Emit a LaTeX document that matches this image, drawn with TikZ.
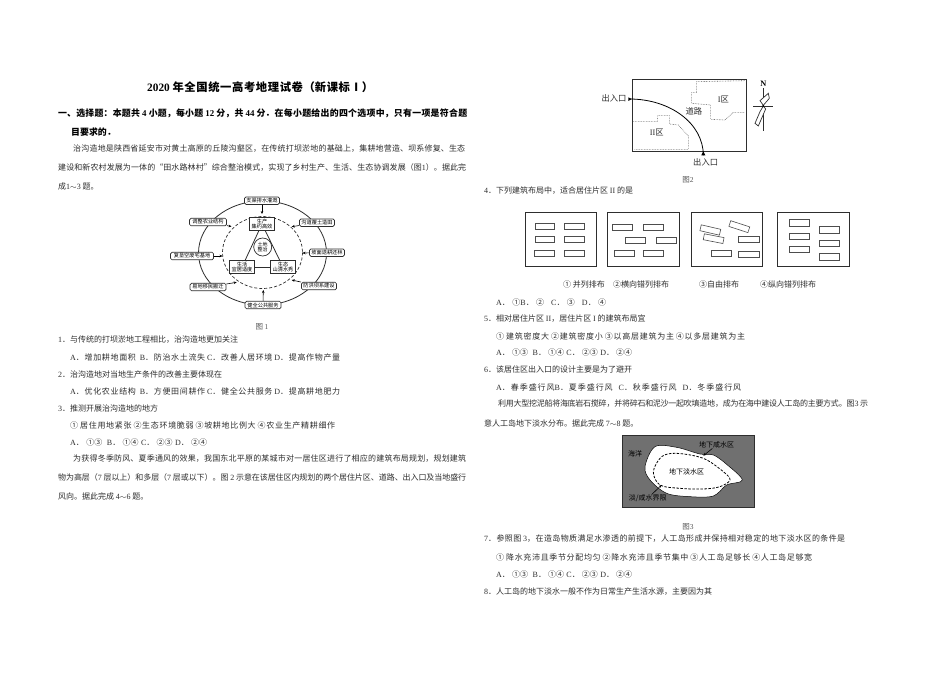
\documentclass[tikz,border=0pt]{standalone}
\usepackage{fontspec}
\setmainfont{Noto Sans CJK SC}
\newfontfamily\lat{Liberation Serif}
\usetikzlibrary{arrows.meta}
\definecolor{ink}{gray}{0.18}
\newcommand{\La}[1]{{\lat #1}}
\newcommand{\fitl}[2]{\vbox{\hsize=#1pt\parindent=0pt\parfillskip=0pt\tolerance=10000\hbadness=10000\hfuzz=30pt\emergencystretch=20pt\XeTeXlinebreaklocale "zh"\XeTeXlinebreakskip=0pt plus 4pt minus 0.6pt\relax #2\par}}
\tikzset{
 txt/.style={anchor=west,inner sep=0pt,text=ink,font=\fontsize{8}{9}\selectfont},
 boldtxt/.style={anchor=west,inner sep=0pt,text=black,font=\fontsize{8.9}{10}\selectfont\bfseries},
 captxt/.style={inner sep=0pt,text=ink!80,font=\fontsize{7.5}{9}\selectfont},
 outerbox/.style={draw=ink,line width=0.7pt,rounded corners=1.5pt,fill=white,inner sep=0pt,minimum height=7.5pt,font=\fontsize{5.2}{5.5}\selectfont},
 innerbox/.style={draw=ink,line width=0.8pt,fill=white,inner sep=0pt,minimum width=25.5pt,minimum height=13pt,align=center,font=\fontsize{5.2}{5.6}\selectfont},
 arr/.style={-{Stealth[length=3pt,width=2.6pt]},line width=0.6pt,draw=black},
 framebox/.style={draw=ink,line width=0.8pt},
 bld/.style={draw=ink!85,line width=0.6pt},
 lab/.style={inner sep=0pt,text=ink,font=\fontsize{8.3}{9}\selectfont},
 isl/.style={inner sep=0pt,text=black,font=\fontsize{7}{8}\selectfont},
}
\begin{document}
\begin{tikzpicture}[x=1pt,y=-1pt]
\useasboundingbox (0,0) rectangle (950,672);
\fill[white] (0,0) rectangle (950,672);
% ---------- left column text
\node[anchor=west,inner sep=0pt,font=\fontsize{11.3}{13}\selectfont\bfseries] (title) at (147,87) {\fitl{226}{\La{\bfseries 2020} 年全国统一高考地理试卷（新课标Ⅰ）}};
\node[boldtxt] (s1) at (58,113) {\fitl{409}{一、选择题：本题共 \La{\bfseries 4} 小题，每小题 \La{\bfseries 12} 分，共 \La{\bfseries 44} 分．在每小题给出的四个选项中，只有一项是符合题}};
\node[boldtxt] (s2) at (71,132) {目要求的．};
\node[txt] (p1) at (73,149) {\fitl{392}{治沟造地是陕西省延安市对黄土高原的丘陵沟壑区，在传统打坝淤地的基础上，集耕地营造、坝系修复、生态}};
\node[txt] (p2) at (58,168) {\fitl{408}{建设和新农村发展为一体的“田水路林村”综合整治模式，实现了乡村生产、生活、生态协调发展（图\La{1}）。据此完}};
\node[txt] (p3) at (58,186) {成\La{1$\sim$3} 题。};
\node[captxt] (c1) at (262,327) {图 \La{1}};
\node[txt] (q1) at (58,340) {\La{1}．与传统的打坝淤地工程相比，治沟造地更加关注};
\node[txt] (q1a) at (70,357) {\fitl{270}{\La{A}．增加耕地面积\ \ \La{B}．防治水土流失 \La{C}．改善人居环境 \La{D}．提高作物产量}};
\node[txt] (q2) at (58,374) {\La{2}．治沟造地对当地生产条件的改善主要体现在};
\node[txt] (q2a) at (70,391) {\fitl{270}{\La{A}．优化农业结构\ \ \La{B}．方便田间耕作 \La{C}．健全公共服务 \La{D}．提高耕地肥力}};
\node[txt] (q3) at (58,408) {\La{3}．推测开展治沟造地的地方};
\node[txt] (q3b) at (70,425) {\fitl{265}{① 居住用地紧张 ②生态环境脆弱 ③坡耕地比例大 ④农业生产精耕细作}};
\node[txt] (q3a) at (70,442) {\fitl{137}{\La{A}．①③\ \ \La{B}．①④ \La{C}．②③ \La{D}．②④}};
\node[txt] (p4) at (73,459) {\fitl{393}{为获得冬季防风、夏季通风的效果，我国东北平原的某城市对一居住区进行了相应的建筑布局规划，规划建筑}};
\node[txt] (p5) at (58,477) {\fitl{408}{物为高层（\La{7} 层以上）和多层（\La{7} 层或以下）。图 \La{2} 示意在该居住区内规划的两个居住片区、道路、出入口及当地盛行}};
\node[txt] (p6) at (58,496) {风向。据此完成 \La{4$\sim$6} 题。};
% ---------- figure 1
\draw[ink,line width=0.8pt] (262.5,253) ellipse [x radius=64,y radius=52];
\draw[ink,line width=0.7pt,dashed,dash pattern=on 3pt off 2pt] (262.5,252.5) ellipse [x radius=40,y radius=36];
\node[outerbox,minimum width=35pt] (b1) at (262,200.7) {支渠排水灌溉};
\node[outerbox,minimum width=37pt] (b2) at (208,222) {调整农业结构};
\node[outerbox,minimum width=35pt] (b3) at (317,222.7) {沟道覆土造田};
\node[outerbox,minimum width=35pt] (b4) at (327,252.7) {坡面退耕还林};
\node[outerbox,minimum width=43pt] (b5) at (192,256) {复垦空废宅基地};
\node[outerbox,minimum width=36pt] (b6) at (208,287) {易地移民搬迁};
\node[outerbox,minimum width=35pt] (b7) at (319,286) {防洪坝系建设};
\node[outerbox,minimum width=36pt] (b8) at (263,305) {健全公共服务};
\coordinate (e1) at (262,214);
\coordinate (e2) at (231.5,226.5);
\coordinate (e3) at (291.7,226.7);
\coordinate (e4) at (302.5,253);
\coordinate (e5) at (222.5,256);
\coordinate (e6) at (236.7,282.3);
\coordinate (e7) at (291.7,280);
\coordinate (e8) at (263.3,290);
\foreach \i in {1,...,8} {\draw[arr] (b\i) -- (e\i);}
\node[innerbox] (prod) at (262,224) {生产\\集约高效};
\node[innerbox] (live) at (242,267) {生活\\宜居适度};
\node[innerbox] (eco) at (283,267) {生态\\山清水秀};
\node[draw=ink,line width=0.7pt,circle,minimum size=18pt,inner sep=0pt,align=center,font=\fontsize{5}{5.4}\selectfont] (land) at (262.7,247) {土地\\整治};
\draw[ink,line width=0.8pt] (prod) -- (live);
\draw[ink,line width=0.8pt] (prod) -- (eco);
\draw[ink,line width=0.8pt] (live) -- (eco);
% ---------- figure 2
\begin{scope}[shift={(590,70)},x=0.3333pt,y=-0.3333pt]
\draw[ink,line width=0.9pt] (128,27) rectangle (468,243);
\draw[ink!80,line width=0.6pt,densely dotted] (465,32) -- (320,35) -- (320,68) -- (305,68) -- (305,100) -- (362,105) -- (362,148) -- (405,150) -- (430,127) -- (465,127);
\draw[ink!80,line width=0.6pt,densely dotted] (130,155) -- (203,155) -- (203,137) -- (238,137) -- (238,162) -- (265,165) -- (295,198) -- (295,238) -- (132,238);
\coordinate (g1) at (118,87);
\coordinate (g2) at (340,256);
\draw[black,line width=0.8pt] (g1) .. controls (240,87) and (340,160) .. (g2);
\fill[black] (115,82) -- (125,87) -- (115,93) -- cycle;
\fill[black] (334,256) -- (340,244) -- (346,256) -- cycle;
\node[lab] (g3) at (72,85) {出入口};
\node[lab] (g4) at (400,87) {\La{I}区};
\node[lab] (g5) at (312,125) {道路};
\node[lab] (g6) at (200,187) {\La{II}区};
\node[lab] (g7) at (347,277) {出入口};
\node[lab,text=black] (gN) at (520,40) {\La{\bfseries N}};
\draw[ink,line width=0.6pt] (520,55) -- (520,182);
\draw[ink,line width=0.6pt] (490,108) -- (550,108);
\draw[ink,line width=0.7pt,fill=white] (520,106) -- (510,92) -- (535,70) -- (538,85) -- cycle;
\draw[ink,line width=0.7pt,fill=white] (520,108) -- (527,117) -- (505,168) -- (495,160) -- (510,125) -- cycle;
\fill[black] (520,108) circle (3.5);
\end{scope}
\node[captxt] (c2) at (688,180) {图\La{2}};
\node[txt] (q4) at (484,191) {\La{4}．下列建筑布局中，适合居住片区 \La{II} 的是};
% ---------- layouts
\begin{scope}[shift={(500,195)},x=0.3333pt,y=-0.3333pt]
\draw[framebox] (75,53) rectangle (290,215);
\draw[framebox] (322,53) rectangle (538,215);
\draw[framebox] (573,53) rectangle (788,215);
\draw[framebox] (832,53) rectangle (1048,215);
\foreach \a/\b/\c/\d in {105/85/163/103,192/85/252/103,105/125/163/143,192/125/252/143,103/165/163/183,192/165/252/183,
 337/87/397/105,430/87/490/105,377/127/437/145,470/127/530/145,343/165/403/183,430/165/490/183,
 715/124/777/142,633/165/693/183,715/170/777/188,
 868/73/928/93,868/115/928/133,868/155/928/173,957/95/1018/115,957/137/1018/155,957/175/1018/195}
 {\draw[bld] (\a,\b) rectangle (\c,\d);}
\draw[bld,rotate around={-13:(631,105)}] (601,96) rectangle (661,114);
\draw[bld,rotate around={-18:(718,95)}] (688,86) rectangle (748,104);
\draw[bld,rotate around={-11:(641,131)}] (611,122) rectangle (671,140);
\end{scope}
\node[txt] (l1) at (563,284) {① 并列排布};
\node[txt] (l2) at (613,284) {②横向错列排布};
\node[txt] (l3) at (699,284) {③自由排布};
\node[txt] (l4) at (760,284) {④纵向错列排布};
\node[txt] (q4a) at (496,302) {\fitl{110}{\La{A}．①\La{B}．②\ \ \ \La{C}．③\ \ \ \La{D}．④}};
\node[txt] (q5) at (484,319) {\La{5}．相对居住片区 \La{II}，居住片区 \La{I} 的建筑布局宜};
\node[txt] (q5b) at (496,336) {\fitl{249}{① 建筑密度大 ②建筑密度小 ③以高层建筑为主 ④以多层建筑为主}};
\node[txt] (q5a) at (496,352) {\fitl{136}{\La{A}．①③\ \ \La{B}．①④ \La{C}．②③ \La{D}．②④}};
\node[txt] (q6) at (484,369) {\La{6}．该居住区出入口的设计主要是为了避开};
\node[txt] (q6a) at (496,387) {\fitl{245}{\La{A}．春季盛行风\La{B}．夏季盛行风\ \ \ \La{C}．秋季盛行风\ \ \ \La{D}．冬季盛行风}};
\node[txt] (p7) at (498,404) {\fitl{370}{利用大型挖泥船将海底岩石搅碎，并将碎石和泥沙一起吹填造地，成为在海中建设人工岛的主要方式。图\La{3} 示}};
\node[txt] (p8) at (484,423) {意人工岛地下淡水分布。据此完成 \La{7$\sim$8} 题。};
% ---------- figure 3
\begin{scope}[shift={(610,425)},x=0.3333pt,y=-0.3333pt]
\fill[black!56] (38,30) rectangle (432,248);
\draw[ink,line width=0.6pt] (38,30) rectangle (432,248);
\draw[black,line width=0.5pt,fill=white] plot[smooth cycle,tension=0.55] coordinates {(135,65) (200,67) (270,87) (310,90) (350,118) (397,165) (350,180) (310,213) (240,215) (170,205) (120,165) (105,125)};
\draw[black,line width=0.8pt,dashed,dash pattern=on 2.5pt off 1.5pt] plot[smooth cycle,tension=0.55] coordinates {(155,95) (200,85) (280,100) (340,140) (360,165) (330,185) (280,192) (210,190) (150,180) (130,140)};
\node[isl] (h1) at (75,85) {海洋};
\node[isl] (h2) at (320,60) {地下咸水区};
\node[isl] (h3) at (230,140) {地下淡水区};
\node[isl] (h4) at (113,220) {淡/咸水界限};
\coordinate (h5) at (280,92);
\coordinate (h6) at (155,180);
\draw[arr] (h2) -- (h5);
\draw[arr] (h4) -- (h6);
\end{scope}
\node[captxt] (c3) at (688,527) {图\La{3}};
\node[txt] (q7) at (484,539) {\fitl{361}{\La{7}．参照图 \La{3}，在造岛物质满足水渗透的前提下，人工岛形成并保持相对稳定的地下淡水区的条件是}};
\node[txt] (q7b) at (496,557) {\fitl{316}{① 降水充沛且季节分配均匀 ②降水充沛且季节集中 ③人工岛足够长 ④人工岛足够宽}};
\node[txt] (q7a) at (496,574) {\fitl{136}{\La{A}．①③\ \ \La{B}．①④ \La{C}．②③ \La{D}．②④}};
\node[txt] (q8) at (484,592) {\La{8}．人工岛的地下淡水一般不作为日常生产生活水源，主要因为其};
\end{tikzpicture}
\end{document}
